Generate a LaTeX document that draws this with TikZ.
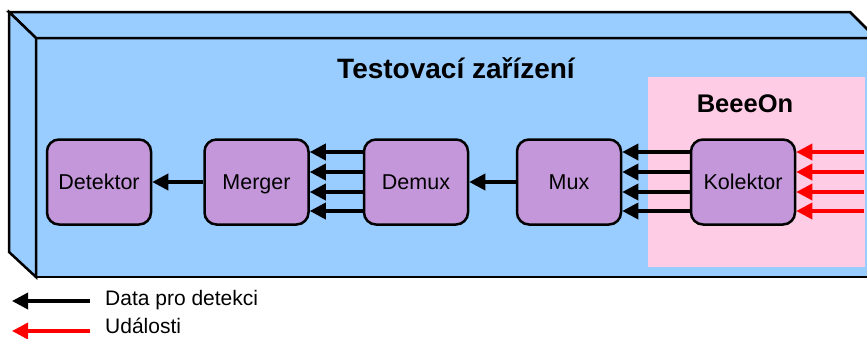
\documentclass[tikz,border=0pt]{standalone}
\usepackage{fontspec}
\setmainfont{Liberation Sans}
\usetikzlibrary{arrows.meta,positioning}
\definecolor{boxblue}{RGB}{153,204,255}
\definecolor{beeeonpink}{RGB}{255,204,230}
\definecolor{blockpurple}{RGB}{196,151,218}
\definecolor{eventred}{RGB}{255,0,0}
\tikzset{>={Triangle[length=16pt,width=16pt]}}
\tikzset{
    block/.style={rectangle,draw,rounded corners=12pt,line width=2.5pt,fill=blockpurple,minimum width=104pt,minimum height=85pt,inner sep=0pt,text height=15pt,text depth=0pt,font=\fontsize{21.5}{24}\selectfont},
    frame/.style={draw,line width=2.5pt,fill=boxblue,line join=miter},
    heading/.style={font=\fontsize{28}{30}\selectfont\bfseries,inner sep=0pt,anchor=base},
    legendtext/.style={font=\fontsize{21}{24}\selectfont,inner sep=0pt,anchor=base west},
    dataflow/.style={->,line width=3.5pt},
    eventflow/.style={->,line width=3.5pt,draw=eventred,fill=eventred},
}
\begin{document}
\begin{tikzpicture}[x=1pt,y=-1pt]
	\useasboundingbox (0,0) rectangle (867,338);
	\clip (0,0) rectangle (867,338);

	\path[frame] (36,38) rectangle (900,277);
	\path[frame] (9,12) -- (850,12) -- (876,38) -- (36,38) -- cycle;
	\path[frame] (9,12) -- (36,38) -- (36,277) -- (9,252) -- cycle;
	\fill[beeeonpink] (648,77) rectangle (865,267);

	\node[heading] (title) at (456,78) {Testovací zařízení};
	\node[heading,font=\fontsize{25.5}{28}\selectfont\bfseries] (beeeon) at (745,112) {BeeeOn};

	\node[block] (detektor) at (99,182) {Detektor};
	\node[block] (merger) at (256.5,182) {Merger};
	\node[block] (demux) at (416,182) {Demux};
	\node[block] (mux) at (569,182) {Mux};
	\node[block] (kolektor) at (743,182) {Kolektor};
	\coordinate (events) at (864,182);

	\draw[dataflow] (merger) -- (detektor);
	\draw[dataflow] (mux) -- (demux);
	\foreach \o in {30,10,-10,-29} {
		\draw[dataflow] ([yshift=\o pt]demux.west) -- ([yshift=\o pt]merger.east);
		\draw[dataflow] ([yshift=\o pt]kolektor.west) -- ([yshift=\o pt]mux.east);
		\draw[eventflow] ([yshift=\o pt]events) -- ([yshift=\o pt]kolektor.east);
	}

	\coordinate (datafrom) at (90,301);
	\coordinate (datato) at (12,301);
	\coordinate (eventfrom) at (90,331);
	\coordinate (eventto) at (12,331);
	\draw[dataflow] (datafrom) -- (datato);
	\draw[eventflow] (eventfrom) -- (eventto);
	\node[legendtext] (datalabel) at (105,305) {Data pro detekci};
	\node[legendtext] (eventlabel) at (105,333) {Události};
\end{tikzpicture}
\end{document}
